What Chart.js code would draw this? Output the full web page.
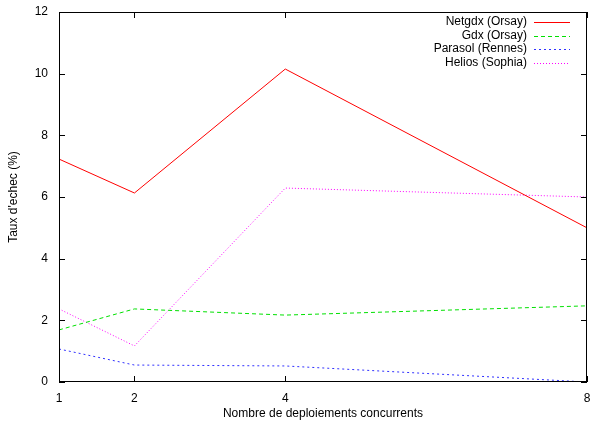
<!DOCTYPE html>
<html><head><meta charset="utf-8">
<script src="https://cdn.jsdelivr.net/npm/chart.js@4"></script>
<style>html,body{margin:0;padding:0;background:#fff}#w{width:591px;height:421px}</style>
</head><body><div id="w"><canvas id="c"></canvas></div>
<script>
const xValues = [1, 2, 4, 8];
const xTicks = [1, 2, 4, 8];
const yTicks = [0, 2, 4, 6, 8, 10, 12];
const seriesNames = ['Netgdx (Orsay)', 'Gdx (Orsay)', 'Parasol (Rennes)', 'Helios (Sophia)'];
const netgdx = [7.23, 6.13, 10.15, 5.0];
const gdx = [1.69, 2.37, 2.17, 2.47];
const parasol = [1.07, 0.55, 0.52, 0.0];
const helios = [2.37, 1.17, 6.29, 6.0];
const colors = ['#ff0000', '#00e000', '#3030ff', '#ff00ff'];
const dashes = [[], [4, 3], [2, 3], [1, 2]];
const allSeries = [netgdx, gdx, parasol, helios];

const FONT = '"Liberation Sans", Arial, sans-serif';

const frame = {
  id: 'frame',
  afterDraw(chart) {
    const {ctx, chartArea: a, scales: {x, y}} = chart;
    ctx.save();
    ctx.strokeStyle = '#000';
    ctx.lineWidth = 1;
    ctx.setLineDash([]);
    ctx.strokeRect(a.left + 0.5, a.top + 0.5, a.right - a.left - 1, a.bottom - a.top - 1);
    const L = 6;
    ctx.beginPath();
    xTicks.forEach(v => {
      const px = Math.round(x.getPixelForValue(v)) + 0.5;
      ctx.moveTo(px, a.bottom); ctx.lineTo(px, a.bottom - L);
      ctx.moveTo(px, a.top); ctx.lineTo(px, a.top + L);
    });
    yTicks.forEach(v => {
      const py = Math.round(y.getPixelForValue(v)) + 0.5;
      ctx.moveTo(a.left, py); ctx.lineTo(a.left + L, py);
      ctx.moveTo(a.right, py); ctx.lineTo(a.right - L, py);
    });
    ctx.stroke();
    // legend
    ctx.font = '12px ' + FONT;
    ctx.fillStyle = '#000';
    ctx.textAlign = 'right';
    ctx.textBaseline = 'middle';
    seriesNames.forEach((n, i) => {
      const ty = 22 + i * 13.5;
      ctx.fillText(n, 527, ty);
      ctx.strokeStyle = colors[i];
      ctx.setLineDash(dashes[i]);
      ctx.beginPath();
      ctx.moveTo(534, Math.round(ty) + 0.5); ctx.lineTo(570, Math.round(ty) + 0.5);
      ctx.stroke();
    });
    ctx.restore();
  }
};

new Chart(document.getElementById('c'), {
  type: 'line',
  data: {
    datasets: allSeries.map((s, i) => ({
      label: seriesNames[i],
      data: xValues.map((xv, j) => ({x: xv, y: s[j]})),
      borderColor: colors[i],
      borderDash: dashes[i],
      borderWidth: 1,
      pointRadius: 0,
      tension: 0,
      fill: false
    }))
  },
  options: {
    responsive: true,
    maintainAspectRatio: false,
    animation: false,
    layout: {padding: {top: 12, right: 4, left: 0, bottom: 0}},
    plugins: {legend: {display: false}, tooltip: {enabled: false}},
    scales: {
      x: {
        type: 'linear', min: 1, max: 8,
        afterBuildTicks: s => { s.ticks = xTicks.map(v => ({value: v})); },
        afterFit: s => { s.height = 39; s.paddingLeft = 0; s.paddingRight = 0; },
        grid: {display: false},
        border: {display: false},
        ticks: {color: '#000', font: {family: FONT, size: 12}, padding: 1, maxRotation: 0, autoSkip: false},
        title: {display: true, text: 'Nombre de deploiements concurrents', color: '#000', font: {family: FONT, size: 12}, padding: {top: 0, bottom: 0}}
      },
      y: {
        min: 0, max: 12,
        afterBuildTicks: s => { s.ticks = yTicks.map(v => ({value: v})); },
        afterFit: s => { s.width = 59; s.paddingTop = 0; s.paddingBottom = 0; },
        grid: {display: false},
        border: {display: false},
        ticks: {color: '#000', font: {family: FONT, size: 12}, padding: 3},
        title: {display: true, text: "Taux d'echec (%)", color: '#000', font: {family: FONT, size: 12}, padding: {top: 6, bottom: 0}}
      }
    }
  },
  plugins: [frame]
});
</script></body></html>
